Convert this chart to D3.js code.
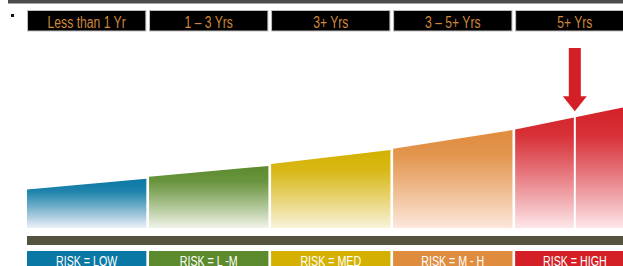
<!DOCTYPE html>
<html><head><meta charset="utf-8">
<script src="https://cdn.jsdelivr.net/npm/d3@7"></script>
<style>html,body{margin:0;padding:0;background:#fff;overflow:hidden}</style>
</head><body>
<svg id="c" width="623" height="266"></svg>
<script>
const categories = ["Less than 1 Yr", "1 – 3 Yrs", "3+ Yrs", "3 – 5+ Yrs", "5+ Yrs"];
const riskLabels = ["RISK = LOW", "RISK = L -M", "RISK = MED", "RISK = M - H", "RISK = HIGH"];
const riskStart = [30, 40, 50, 62, 77];
const riskEnd = [38.5, 48.5, 61, 76.5, 96];
const colors = ["#0a78a4", "#5c8b2d", "#d4b100", "#e08c3e", "#d41f27"];
const paleColors = ["#eef0f8", "#f1f4ea", "#f9f3dc", "#fde8dc", "#fde7ea"];

const svg = d3.select("#c");
const x = d3.scaleBand().domain(categories).range([27, 634.5]).paddingInner(0.022).paddingOuter(0);
const y = d3.scaleLinear().domain([0, 100]).range([228, 100]);
const FONT = "Liberation Sans, Arial, sans-serif";

// top gray line
svg.append("rect").attr("x", 8).attr("y", 0).attr("width", 615).attr("height", 3.5).attr("fill", "#4b4b4b");
svg.append("rect").attr("x", 11).attr("y", 14).attr("width", 3).attr("height", 3).attr("fill", "#111");

const defs = svg.append("defs");
categories.forEach((c, i) => {
  const g = defs.append("linearGradient").attr("id", "g" + i).attr("x1", 0).attr("y1", 0).attr("x2", 0).attr("y2", 1);
  g.append("stop").attr("offset", "0%").attr("stop-color", colors[i]);
  g.append("stop").attr("offset", "25%").attr("stop-color", colors[i]).attr("stop-opacity", 0.92);
  g.append("stop").attr("offset", "100%").attr("stop-color", paleColors[i]);
});

// header boxes
const hdr = svg.append("g");
categories.forEach((c, i) => {
  hdr.append("rect").attr("x", x(c) + 0.5).attr("y", 10.5).attr("width", x.bandwidth() - 1).attr("height", 20.5)
    .attr("fill", "#000").attr("stroke", "#bdbdbd").attr("stroke-width", 1);
  hdr.append("text")
    .attr("transform", `translate(${x(c) + x.bandwidth() / 2},27.5) scale(0.76,1)`)
    .attr("text-anchor", "middle").attr("fill", "#cf883b")
    .attr("font-family", FONT).attr("font-size", 16)
    .text(c);
});

// bars (area polygons)
const bars = svg.append("g");
categories.forEach((c, i) => {
  const x0 = x(c), x1 = x(c) + x.bandwidth();
  const pts = [[x0, y(0)], [x0, y(riskStart[i])], [x1, y(riskEnd[i])], [x1, y(0)]];
  bars.append("path").attr("d", d3.line()(pts) + "Z").attr("fill", "url(#g" + i + ")");
});

// marker at centre of the last category
const last = categories[categories.length - 1];
const mx = x(last) + x.bandwidth() / 2;
const mVal = (riskStart[4] + riskEnd[4]) / 2;
svg.append("line").attr("x1", mx).attr("x2", mx).attr("y1", y(mVal) - 2).attr("y2", y(0))
  .attr("stroke", "#fff").attr("stroke-width", 2);
const tipY = y(mVal) - 6;
const arrow = [[mx - 6, 48], [mx + 6, 48], [mx + 6, tipY - 15], [mx + 12, tipY - 15], [mx, tipY], [mx - 12, tipY - 15], [mx - 6, tipY - 15]];
svg.append("path").attr("d", d3.line()(arrow) + "Z").attr("fill", "#d41f27");

// dark band
svg.append("rect").attr("x", x(categories[0])).attr("y", 236).attr("width", 623 - x(categories[0])).attr("height", 9).attr("fill", "#55523f");

// bottom risk boxes
categories.forEach((c, i) => {
  svg.append("rect").attr("x", x(c)).attr("y", 251).attr("width", x.bandwidth()).attr("height", 21).attr("fill", colors[i]);
  svg.append("text")
    .attr("transform", `translate(${x(c) + x.bandwidth() / 2},266) scale(0.735,1)`)
    .attr("text-anchor", "middle").attr("fill", "#fff")
    .attr("font-family", FONT).attr("font-size", 14.5)
    .text(riskLabels[i]);
});
</script>
</body></html>
